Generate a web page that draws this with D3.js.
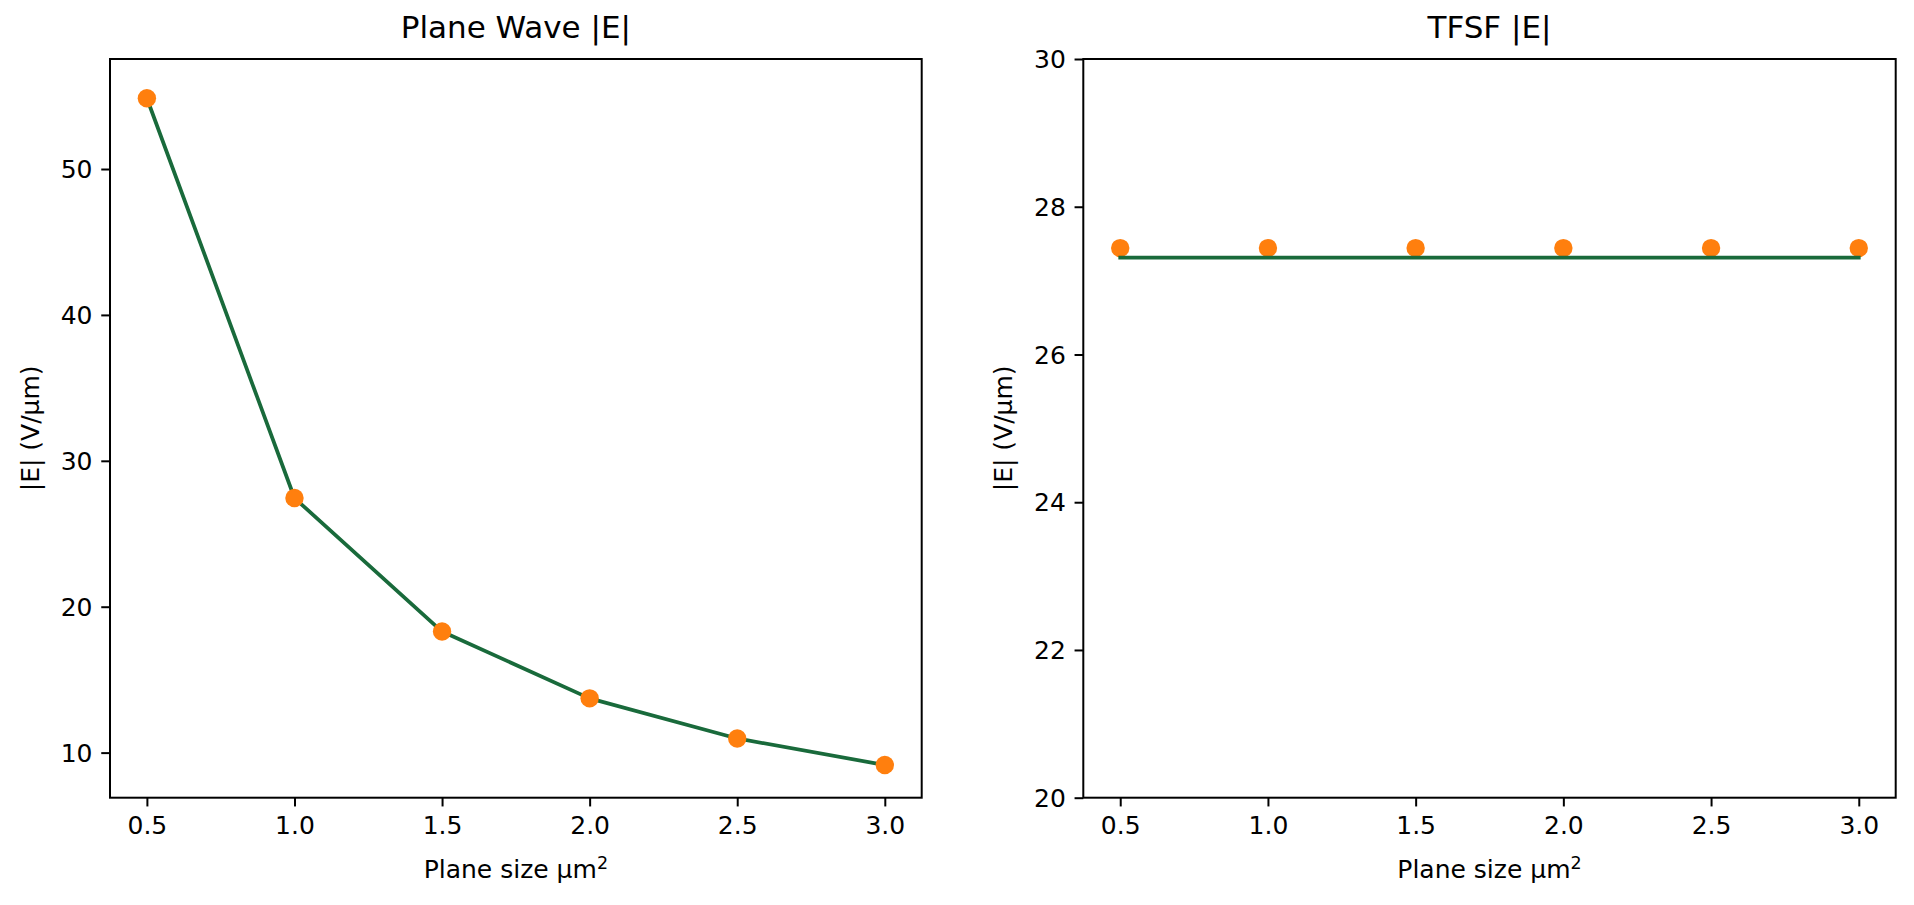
<!DOCTYPE html>
<html>
<head>
<meta charset="utf-8">
<script src="https://cdn.jsdelivr.net/npm/d3@7"></script>
<style>
  html, body { margin: 0; padding: 0; background: #fff; }
  svg { display: block; font-family: "DejaVu Sans", sans-serif; }
</style>
</head>
<body>
<svg id="chart" width="1914" height="905"></svg>
<script>
// ---- data ----
const planeSizes = [0.5, 1.0, 1.5, 2.0, 2.5, 3.0];
const planeWaveDots = [54.85, 27.45, 18.3, 13.72, 10.97, 9.15];
const planeWaveLine = [54.85, 27.45, 18.3, 13.72, 10.97, 9.15];
const tfsfDots = [27.44, 27.44, 27.44, 27.44, 27.44, 27.44];
const tfsfLine = [27.31, 27.31, 27.31, 27.31, 27.31, 27.31];
const xTicks = [0.5, 1.0, 1.5, 2.0, 2.5, 3.0];
const leftYTicks = [10, 20, 30, 40, 50];
const rightYTicks = [20, 22, 24, 26, 28, 30];
const titles = ["Plane Wave |E|", "TFSF |E|"];
const xLabelBase = "Plane size µm";
const xLabelSup = "2";
const yLabel = "|E| (V/µm)";

const lineColor = "#196a3b";
const dotColor = "#ff7f0e";

const svg = d3.select("#chart");

const panels = [
  { left: 110, right: 921.7, top: 59, bottom: 797.7,
    yDomain: [6.91, 57.54], yTicks: leftYTicks, title: titles[0],
    dots: planeWaveDots, line: planeWaveLine, dotsOnTop: true },
  { left: 1083.3, right: 1895.7, top: 59, bottom: 797.7,
    yDomain: [20, 30], yTicks: rightYTicks, title: titles[1],
    dots: tfsfDots, line: tfsfLine, dotsOnTop: false }
];

panels.forEach(p => {
  const x = d3.scaleLinear().domain([0.375, 3.125]).range([p.left, p.right]);
  const y = d3.scaleLinear().domain(p.yDomain).range([p.bottom, p.top]);
  const g = svg.append("g");

  const drawLine = () => {
    g.append("path")
      .datum(planeSizes.map((s, i) => [s, p.line[i]]))
      .attr("fill", "none")
      .attr("stroke", lineColor)
      .attr("stroke-width", 3.75)
      .attr("stroke-linejoin", "round")
      .attr("stroke-linecap", "square")
      .attr("d", d3.line().x(d => x(d[0])).y(d => y(d[1])));
  };
  const drawDots = () => {
    g.selectAll(null)
      .data(planeSizes.map((s, i) => [s, p.dots[i]]))
      .enter().append("circle")
      .attr("cx", d => x(d[0]))
      .attr("cy", d => y(d[1]))
      .attr("r", 9.2)
      .attr("fill", dotColor);
  };
  if (p.dotsOnTop) { drawLine(); drawDots(); } else { drawDots(); drawLine(); }

  // x axis
  const xAxis = d3.axisBottom(x).tickValues(xTicks).tickFormat(d3.format(".1f"))
    .tickSize(8.75).tickPadding(8.75).tickSizeOuter(0);
  const gx = g.append("g").attr("transform", `translate(0,${p.bottom})`).call(xAxis);
  gx.select(".domain").remove();
  gx.selectAll(".tick line").attr("stroke", "#000").attr("stroke-width", 2);
  gx.selectAll(".tick text").attr("fill", "#000").attr("font-size", 25)
    .attr("font-family", "DejaVu Sans").attr("dy", null).attr("y", 8.75 + 8.75 + 19);

  // y axis
  const yAxis = d3.axisLeft(y).tickValues(p.yTicks).tickFormat(d3.format("d"))
    .tickSize(8.75).tickPadding(8.75).tickSizeOuter(0);
  const gy = g.append("g").attr("transform", `translate(${p.left},0)`).call(yAxis);
  gy.select(".domain").remove();
  gy.selectAll(".tick line").attr("stroke", "#000").attr("stroke-width", 2);
  gy.selectAll(".tick text").attr("fill", "#000").attr("font-size", 25)
    .attr("font-family", "DejaVu Sans").attr("dy", "0.35em");

  // frame
  g.append("rect")
    .attr("x", p.left).attr("y", p.top)
    .attr("width", p.right - p.left).attr("height", p.bottom - p.top)
    .attr("fill", "none").attr("stroke", "#000").attr("stroke-width", 2);

  // title
  g.append("text")
    .attr("x", (p.left + p.right) / 2).attr("y", 37.5)
    .attr("text-anchor", "middle").attr("font-size", 31).attr("fill", "#000")
    .text(p.title);

  // x label with superscript
  const xl = g.append("text")
    .attr("x", (p.left + p.right) / 2).attr("y", 878)
    .attr("text-anchor", "middle").attr("font-size", 25).attr("fill", "#000");
  xl.append("tspan").text(xLabelBase);
  xl.append("tspan").attr("font-size", 17.5).attr("dy", -9).text(xLabelSup);

  // y label
  const yl = p.left - 71;
  g.append("text")
    .attr("transform", `translate(${yl},${(p.top + p.bottom) / 2}) rotate(-90)`)
    .attr("text-anchor", "middle").attr("font-size", 25).attr("fill", "#000")
    .text(yLabel);
});
</script>
</body>
</html>
